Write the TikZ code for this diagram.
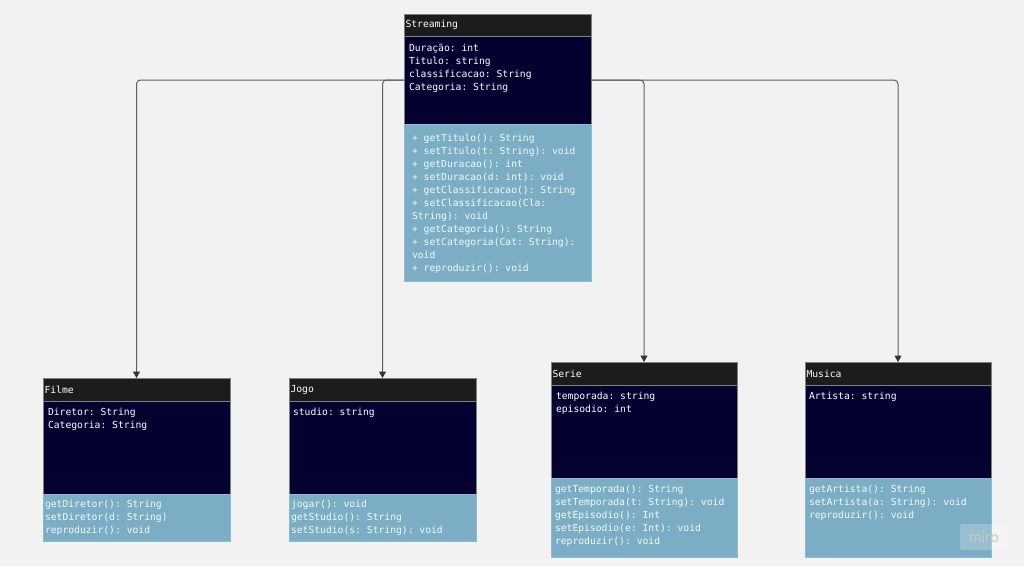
\documentclass[tikz,border=0pt]{standalone}
\usepackage{fontspec}
\setmonofont{DejaVu Sans Mono}
\newfontfamily\mirofont{Lato}
\usetikzlibrary{positioning}
\usetikzlibrary{arrows.meta}

\definecolor{bgcol}{RGB}{242,242,242}
\definecolor{hdrcol}{RGB}{28,28,28}
\definecolor{attrcol}{RGB}{4,1,48}
\definecolor{methcol}{RGB}{123,174,196}
\definecolor{linkcol}{RGB}{95,95,95}

\begin{document}
\begin{tikzpicture}[x=1pt,y=-1pt,inner sep=0pt,outer sep=0pt,
font=\ttfamily\fontsize{9.7}{13}\selectfont,
hdrbox/.style={fill=hdrcol,text=white,anchor=north west,inner xsep=1.5pt,draw=black!50,line width=.3pt},
attrbox/.style={fill=attrcol,text=white,inner xsep=5pt,inner ysep=7.5pt,draw=black!50,line width=.3pt},
methbox/.style={fill=methcol,text=white!92!methcol,inner xsep=4pt,inner ysep=7.5pt,draw=methcol!85!white,line width=.3pt},
link/.style={draw=linkcol,line width=1pt,rounded corners=4pt,-{Triangle[width=7pt,length=6.5pt,color=black!80]}}]

\useasboundingbox[fill=bgcol] (0,0) rectangle (1024,566);

% Streaming
\node[hdrbox] (streamH) at (404,14) {\begin{minipage}[c][22pt][c]{184pt}Streaming\end{minipage}};
\node[attrbox,below=0pt of streamH] (streamA) {\begin{minipage}[c][73pt][t]{177pt}Duração: int\\Titulo: string\\classificacao: String\\Categoria: String\end{minipage}};
\node[methbox,below=0pt of streamA,inner xsep=8pt,inner ysep=10.5pt] (streamM) {\begin{minipage}[c][136pt][t]{171pt}+ getTitulo(): String\\+ setTitulo(t: String): void\\+ getDuracao(): int\\+ setDuracao(d: int): void\\+ getClassificacao(): String\\+ setClassificacao(Cla:\\String): void\\+ getCategoria(): String\\+ setCategoria(Cat: String):\\void\\+ reproduzir(): void\end{minipage}};

% Filme
\node[hdrbox] (filmeH) at (43,378) {\begin{minipage}[c][23pt][c]{184pt}Filme\end{minipage}};
\node[attrbox,below=0pt of filmeH] (filmeA) {\begin{minipage}[c][78pt][t]{177pt}Diretor: String\\Categoria: String\end{minipage}};
\node[methbox,below=0pt of filmeA,inner xsep=2pt,inner ysep=6.5pt] (filmeM) {\begin{minipage}[c][34pt][t]{183pt}getDiretor(): String\\setDiretor(d: String)\\reproduzir(): void\end{minipage}};

% Jogo
\node[hdrbox] (jogoH) at (289,378) {\begin{minipage}[c][23pt][c]{184pt}Jogo\end{minipage}};
\node[attrbox,below=0pt of jogoH,inner xsep=4pt] (jogoA) {\begin{minipage}[c][78pt][t]{179pt}studio: string\end{minipage}};
\node[methbox,below=0pt of jogoA,inner xsep=2pt,inner ysep=6.5pt] (jogoM) {\begin{minipage}[c][34pt][t]{183pt}jogar(): void\\getStudio(): String\\setStudio(s: String): void\end{minipage}};

% Serie
\node[hdrbox] (serieH) at (551,362) {\begin{minipage}[c][23pt][c]{183pt}Serie\end{minipage}};
\node[attrbox,below=0pt of serieH] (serieA) {\begin{minipage}[c][78pt][t]{176pt}temporada: string\\episodio: int\end{minipage}};
\node[methbox,below=0pt of serieA] (serieM) {\begin{minipage}[c][64pt][t]{178pt}getTemporada(): String\\setTemporada(t: String): void\\getEpisodio(): Int\\setEpisodio(e: Int): void\\reproduzir(): void\end{minipage}};

% Musica
\node[hdrbox] (musicaH) at (805,362) {\begin{minipage}[c][23pt][c]{183pt}Musica\end{minipage}};
\node[attrbox,below=0pt of musicaH,inner xsep=4pt] (musicaA) {\begin{minipage}[c][78pt][t]{178pt}Artista: string\end{minipage}};
\node[methbox,below=0pt of musicaA] (musicaM) {\begin{minipage}[c][64pt][t]{178pt}getArtista(): String\\setArtista(a: String): void\\reproduzir(): void\end{minipage}};

% links
\draw[link] (streamA.west) -| (filmeH.north);
\draw[link] (streamA.west) -| (jogoH.north);
\draw[link] (streamA.east) -| (serieH.north);
\draw[link] (streamA.east) -| (musicaH.north);

\node[fill=white,fill opacity=.22,text opacity=1,text=black!22,rounded corners=2pt,minimum width=48pt,minimum height=26pt] (miro) at (984,537) {\mirofont\fontsize{15}{15}\selectfont miro};
\end{tikzpicture}
\end{document}
